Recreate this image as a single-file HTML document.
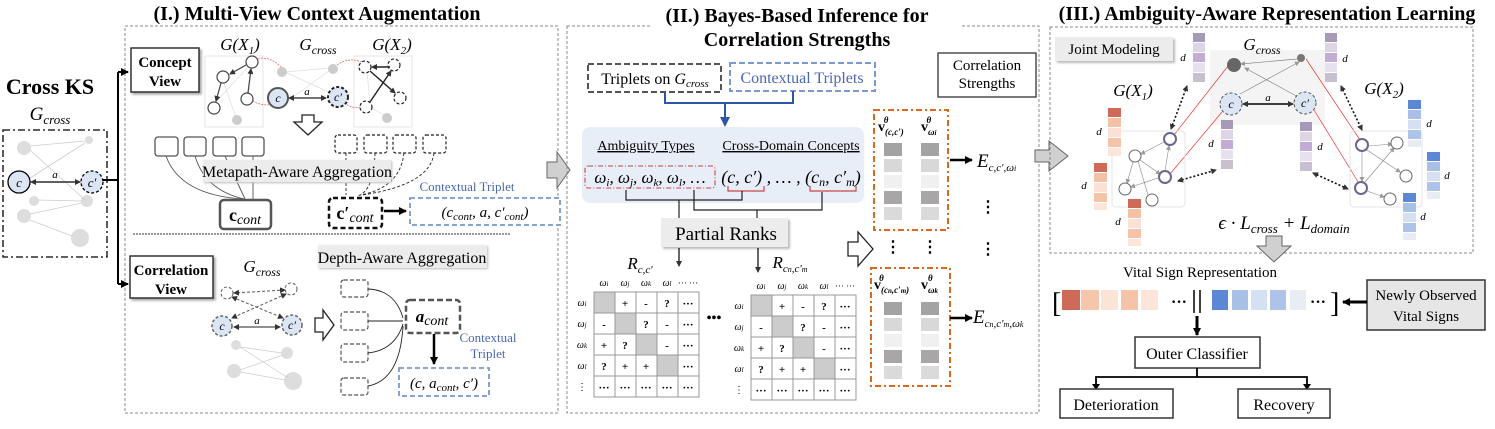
<!DOCTYPE html>
<html><head><meta charset="utf-8"><style>
html,body{margin:0;padding:0;background:#fff;}
svg{display:block;font-family:"Liberation Serif",serif;}
.i{font-style:italic}
.b{font-weight:bold}
</style></head><body>
<svg width="1495" height="429" viewBox="0 0 1495 429" xmlns="http://www.w3.org/2000/svg">
<defs>
<marker id="ah" markerWidth="8" markerHeight="8" refX="7" refY="4" orient="auto" markerUnits="userSpaceOnUse"><path d="M0,0 L8,4 L0,8 z" fill="#000"/></marker>
<marker id="ahs" markerWidth="6" markerHeight="6" refX="5" refY="3" orient="auto-start-reverse" markerUnits="userSpaceOnUse"><path d="M0,0 L6,3 L0,6 z" fill="#333"/></marker>
<marker id="ahg" markerWidth="5" markerHeight="5" refX="4" refY="2.5" orient="auto-start-reverse" markerUnits="userSpaceOnUse"><path d="M0,0 L5,2.5 L0,5 z" fill="#999"/></marker>
<marker id="ahb" markerWidth="10" markerHeight="10" refX="8" refY="5" orient="auto" markerUnits="userSpaceOnUse"><path d="M0,0 L10,5 L0,10 z" fill="#2e56a6"/></marker>
</defs>

<!-- ===== Panel I ===== -->
<text x="317" y="20" font-size="20" class="b" text-anchor="middle">(I.) Multi-View Context Augmentation</text>
<rect x="125" y="26" width="433" height="387" fill="none" stroke="#888" stroke-dasharray="3,2"/>
<text x="50" y="94" font-size="22" class="b" text-anchor="middle">Cross KS</text>
<text x="50" y="120" font-size="19" class="i" text-anchor="middle">G<tspan font-size="13" dy="4">cross</tspan></text>
<rect x="3" y="130" width="104" height="127" fill="none" stroke="#000" stroke-width="1.3" stroke-dasharray="7,3,2,3"/>
<g fill="#ddd" stroke="none">
<circle cx="24" cy="148" r="7"/><circle cx="89" cy="140" r="4"/><circle cx="34" cy="201" r="5"/><circle cx="87" cy="201" r="6"/><circle cx="24" cy="216" r="7"/><circle cx="80" cy="238" r="9"/>
</g>
<g stroke="#ccc" stroke-width="0.8" fill="none">
<line x1="30" y1="146" x2="85" y2="141"/><line x1="30" y1="150" x2="85" y2="200"/><line x1="38" y1="200" x2="82" y2="201"/><line x1="30" y1="214" x2="82" y2="203"/><line x1="30" y1="220" x2="72" y2="236"/><line x1="30" y1="178" x2="85" y2="143"/>
</g>
<line x1="31" y1="182" x2="80" y2="182" stroke="#000" stroke-width="1.3" marker-end="url(#ahs)" marker-start="url(#ahs)"/>
<text x="55" y="178" font-size="11" class="i" text-anchor="middle">a</text>
<circle cx="19" cy="182" r="11" fill="#dbe5f4" stroke="#000" stroke-width="1.3"/><text x="19" y="187" font-size="13" class="i" text-anchor="middle">c</text>
<circle cx="92" cy="182" r="11" fill="#dbe5f4" stroke="#000" stroke-width="1.3" stroke-dasharray="3,2"/><text x="92" y="187" font-size="13" class="i" text-anchor="middle">c′</text>
<line x1="103" y1="180" x2="118" y2="180" stroke="#000" stroke-width="2"/>
<line x1="118" y1="72" x2="118" y2="284" stroke="#000" stroke-width="2"/>
<line x1="118" y1="72" x2="128" y2="72" stroke="#000" stroke-width="2" marker-end="url(#ah)"/>
<line x1="118" y1="284" x2="128" y2="284" stroke="#000" stroke-width="2" marker-end="url(#ah)"/>
<rect x="131" y="48" width="68" height="44" fill="#fff" stroke="#333" stroke-width="1.5" style="filter:drop-shadow(2px 2px 1px #aaa)"/>
<text x="165" y="67" font-size="15" class="b" text-anchor="middle">Concept</text><text x="165" y="86" font-size="15" class="b" text-anchor="middle">View</text>
<rect x="130" y="256" width="83" height="42" fill="#fff" stroke="#333" stroke-width="1.5" style="filter:drop-shadow(2px 2px 1px #aaa)"/>
<text x="171" y="275" font-size="15" class="b" text-anchor="middle">Correlation</text><text x="171" y="294" font-size="15" class="b" text-anchor="middle">View</text>
<text x="240" y="50" font-size="17" class="i" text-anchor="middle">G(X<tspan font-size="11" dy="4">1</tspan><tspan dy="-4">)</tspan></text>
<text x="318" y="50" font-size="17" class="i" text-anchor="middle">G<tspan font-size="12" dy="4">cross</tspan></text>
<text x="392" y="50" font-size="17" class="i" text-anchor="middle">G(X<tspan font-size="11" dy="4">2</tspan><tspan dy="-4">)</tspan></text>
<rect x="205" y="56" width="58" height="71" fill="none" stroke="#e4e4e4"/>
<rect x="354" y="56" width="58" height="71" fill="none" stroke="#e4e4e4"/>
<g stroke="#ddd" stroke-width="0.7"><line x1="222" y1="78" x2="237" y2="120"/><line x1="250" y1="65" x2="213" y2="105"/><line x1="285" y1="72" x2="330" y2="68"/><line x1="285" y1="72" x2="335" y2="95"/><line x1="289" y1="100" x2="333" y2="68"/><line x1="367" y1="70" x2="370" y2="105"/><line x1="367" y1="105" x2="387" y2="117"/></g>
<g fill="#ccc"><circle cx="282" cy="72" r="5"/><circle cx="333" cy="69" r="5"/><circle cx="237" cy="120" r="5"/><circle cx="387" cy="118" r="5"/></g>
<g stroke="#d44" stroke-width="0.6" stroke-dasharray="2,1" fill="none"><path d="M255,59 Q270,55 282,68"/><path d="M250,100 Q265,108 275,103"/><path d="M337,65 Q350,56 364,63"/><path d="M342,101 Q352,110 364,107"/></g>
<g fill="#fff" stroke="#444" stroke-width="1.2">
<circle cx="252" cy="62" r="6"/><circle cx="223" cy="77" r="6"/><circle cx="247" cy="99" r="6"/><circle cx="214" cy="108" r="6"/>
</g>
<g stroke="#444" stroke-width="1.2"><line x1="246" y1="65" x2="230" y2="74" marker-end="url(#ahs)"/><line x1="248" y1="93" x2="251" y2="69" marker-end="url(#ahs)"/><line x1="221" y1="83" x2="216" y2="101" marker-end="url(#ahs)"/></g>
<g fill="#fff" stroke="#222" stroke-width="1.2" stroke-dasharray="3,2">
<circle cx="365" cy="67" r="6"/><circle cx="394" cy="65" r="6"/><circle cx="400" cy="98" r="6"/><circle cx="366" cy="107" r="6"/>
</g>
<g stroke="#222" stroke-width="1.4"><line x1="390" y1="67" x2="372" y2="67" marker-end="url(#ahs)"/><line x1="370" y1="71" x2="395" y2="93" marker-end="url(#ahs)"/><line x1="370" y1="102" x2="391" y2="71" marker-end="url(#ahs)"/></g>
<line x1="289" y1="98" x2="326" y2="98" stroke="#222" stroke-width="1.2" marker-end="url(#ahs)" marker-start="url(#ahs)"/>
<text x="307" y="95" font-size="11" class="i" text-anchor="middle">a</text>
<circle cx="278" cy="98" r="10" fill="#dbe5f4" stroke="#555" stroke-width="2"/><text x="278" y="102" font-size="12" class="i" text-anchor="middle">c</text>
<circle cx="338" cy="97" r="10" fill="#dbe5f4" stroke="#222" stroke-width="2" stroke-dasharray="3,2"/><text x="338" y="101" font-size="12" class="i" text-anchor="middle">c′</text>
<path d="M302,115 h12 v7 h8 l-14,13 l-14,-13 h8 z" fill="#fff" stroke="#222" stroke-width="1.3"/>
<g fill="#fff" stroke="#555" stroke-width="1.3">
<rect x="155" y="137" width="23" height="19" rx="3"/><rect x="184" y="137" width="22" height="19" rx="3"/><rect x="213" y="137" width="23" height="19" rx="3"/><rect x="242" y="137" width="22" height="19" rx="3"/>
</g>
<g fill="#fff" stroke="#222" stroke-width="1.2" stroke-dasharray="3,2">
<rect x="335" y="135" width="22" height="18" rx="3"/><rect x="364" y="135" width="23" height="18" rx="3"/><rect x="393" y="135" width="23" height="18" rx="3"/><rect x="423" y="135" width="23" height="18" rx="3"/>
</g>
<g fill="none" stroke="#555" stroke-width="0.9">
<path d="M166,156 Q180,195 243,199"/><path d="M195,156 Q205,190 244,199"/><path d="M225,156 L245,199"/><path d="M253,156 L253,199"/>
</g>
<g fill="none" stroke="#222" stroke-width="0.9" stroke-dasharray="3,2">
<path d="M346,153 L346,195"/><path d="M375,153 Q374,190 358,196"/><path d="M404,153 Q400,188 360,195"/><path d="M434,153 Q430,185 362,195"/>
</g>
<rect x="203" y="160" width="188" height="22" fill="#ececec" style="filter:drop-shadow(1px 1px 1px #bbb)"/>
<text x="297" y="177" font-size="16" text-anchor="middle">Metapath-Aware Aggregation</text>
<rect x="220" y="200" width="51" height="29" rx="4" fill="#fff" stroke="#555" stroke-width="2.5"/>
<text x="245" y="221" font-size="18" text-anchor="middle"><tspan class="b">c</tspan><tspan class="i" font-size="14" dy="3">cont</tspan></text>
<rect x="329" y="198" width="53" height="30" rx="4" fill="#fff" stroke="#111" stroke-width="2.5" stroke-dasharray="5,3"/>
<text x="355" y="219" font-size="18" text-anchor="middle"><tspan class="b">c′</tspan><tspan class="i" font-size="14" dy="3">cont</tspan></text>
<line x1="384" y1="211" x2="406" y2="211" stroke="#000" stroke-width="2.5" marker-end="url(#ah)"/>
<text x="467" y="191" font-size="13" fill="#4a68b0" text-anchor="middle">Contextual Triplet</text>
<rect x="410" y="198" width="150" height="27" fill="#fff" stroke="#7b98d0" stroke-width="1.8" stroke-dasharray="5,3"/>
<text x="485" y="217" font-size="15" class="i" text-anchor="middle">(c<tspan font-size="11" dy="3">cont</tspan><tspan dy="-3">, a, c′</tspan><tspan font-size="11" dy="3">cont</tspan><tspan dy="-3">)</tspan></text>
<line x1="133" y1="234" x2="510" y2="234" stroke="#333" stroke-dasharray="2,1"/>
<rect x="318" y="245" width="169" height="23" fill="#ececec" style="filter:drop-shadow(1px 1px 1px #bbb)"/>
<text x="402" y="263" font-size="16" text-anchor="middle">Depth-Aware Aggregation</text>
<text x="262" y="272" font-size="17" class="i" text-anchor="middle">G<tspan font-size="12" dy="4">cross</tspan></text>
<g fill="#ddd"><circle cx="236" cy="345" r="5"/><circle cx="287" cy="353" r="6"/><circle cx="234" cy="371" r="7"/><circle cx="293" cy="381" r="9"/></g>
<g stroke="#ccc" stroke-width="0.7"><line x1="240" y1="347" x2="282" y2="353"/><line x1="240" y1="347" x2="288" y2="378"/><line x1="240" y1="370" x2="283" y2="355"/><line x1="240" y1="372" x2="285" y2="380"/></g>
<g fill="#fff" stroke="#666" stroke-width="1.1" stroke-dasharray="3,2"><circle cx="227" cy="293" r="6"/><circle cx="291" cy="289" r="6"/></g>
<g stroke="#666" stroke-width="1.1" stroke-dasharray="3,2"><line x1="285" y1="290" x2="234" y2="293" marker-end="url(#ahs)" marker-start="url(#ahs)"/><line x1="232" y1="297" x2="283" y2="318" marker-end="url(#ahs)" marker-start="url(#ahs)"/><line x1="286" y1="294" x2="232" y2="318" marker-end="url(#ahs)" marker-start="url(#ahs)"/></g>
<line x1="234" y1="327" x2="280" y2="327" stroke="#222" stroke-width="1.1" marker-end="url(#ahs)" marker-start="url(#ahs)"/>
<text x="257" y="324" font-size="11" class="i" text-anchor="middle">a</text>
<circle cx="222" cy="326" r="10" fill="#dbe5f4" stroke="#666" stroke-width="1.5" stroke-dasharray="3,2"/><text x="222" y="330" font-size="12" class="i" text-anchor="middle">c</text>
<circle cx="292" cy="325" r="10" fill="#dbe5f4" stroke="#666" stroke-width="1.5" stroke-dasharray="3,2"/><text x="292" y="329" font-size="12" class="i" text-anchor="middle">c′</text>
<path d="M315,318 h8 v-8 l11,15 l-11,15 v-8 h-8 z" fill="#fff" stroke="#222" stroke-width="1.3"/>
<g fill="#fff" stroke="#555" stroke-width="1.2" stroke-dasharray="4,2">
<rect x="341" y="280" width="27" height="17" rx="3"/><rect x="341" y="312" width="27" height="18" rx="3"/><rect x="341" y="344" width="27" height="18" rx="3"/><rect x="341" y="378" width="27" height="17" rx="3"/>
</g>
<g fill="none" stroke="#222" stroke-width="0.9">
<path d="M368,289 Q395,290 403,318"/><path d="M368,321 L403,321"/><path d="M368,353 Q395,350 403,324"/><path d="M368,386 Q400,380 403,326"/>
</g>
<rect x="406" y="300" width="54" height="33" rx="4" fill="#fff" stroke="#555" stroke-width="2.5" stroke-dasharray="6,3"/>
<text x="432" y="322" font-size="17" class="i" text-anchor="middle"><tspan class="b">a</tspan><tspan font-size="14" dy="3">cont</tspan></text>
<line x1="434" y1="334" x2="434" y2="364" stroke="#000" stroke-width="2.5" marker-end="url(#ah)"/>
<text x="488" y="342" font-size="13" fill="#4a68b0" text-anchor="middle">Contextual</text>
<text x="488" y="358" font-size="13" fill="#4a68b0" text-anchor="middle">Triplet</text>
<rect x="399" y="368" width="90" height="28" fill="#fff" stroke="#7b98d0" stroke-width="1.8" stroke-dasharray="5,3"/>
<text x="444" y="388" font-size="15" class="i" text-anchor="middle">(c, a<tspan font-size="11" dy="3">cont</tspan><tspan dy="-3">, c′)</tspan></text>

<!-- arrow I -> II -->
<path d="M547,162 h10 v-10 l13,18 l-13,18 v-10 h-10 z" fill="#d0d0d0" stroke="#666"/>

<!-- ===== Panel II ===== -->
<rect x="567" y="26" width="472" height="387" fill="none" stroke="#888" stroke-dasharray="3,2"/>
<rect x="650" y="8" width="310" height="42" fill="#fff"/>
<text x="797" y="22" font-size="20" class="b" text-anchor="middle">(II.) Bayes-Based Inference for</text>
<text x="797" y="46" font-size="20" class="b" text-anchor="middle">Correlation Strengths</text>
<rect x="588" y="64" width="133" height="28" fill="#fff" stroke="#555" stroke-width="2" stroke-dasharray="6,3"/>
<text x="655" y="84" font-size="16" text-anchor="middle">Triplets on <tspan class="i">G<tspan font-size="11" dy="3">cross</tspan></tspan></text>
<rect x="730" y="63" width="145" height="28" fill="#fff" stroke="#7b98d0" stroke-width="2" stroke-dasharray="6,3"/>
<text x="802" y="83" font-size="16" fill="#4a68b0" text-anchor="middle">Contextual Triplets</text>
<path d="M665,92 V103 H793 V91" fill="none" stroke="#2e56a6" stroke-width="2"/>
<line x1="725" y1="103" x2="725" y2="125" stroke="#2e56a6" stroke-width="2" marker-end="url(#ahb)"/>
<rect x="582" y="127" width="282" height="76" rx="8" fill="#e8eef7"/>
<text x="646" y="150" font-size="14" text-anchor="middle" text-decoration="underline">Ambiguity Types</text>
<text x="791" y="150" font-size="14" text-anchor="middle" text-decoration="underline">Cross-Domain Concepts</text>
<rect x="585" y="166" width="130" height="22" rx="3" fill="none" stroke="#c44" stroke-width="1.1" stroke-dasharray="5,2,1,2"/>
<text x="650" y="183" font-size="17" class="i" text-anchor="middle">ω<tspan font-size="11" dy="3">i</tspan><tspan dy="-3">, ω</tspan><tspan font-size="11" dy="3">j</tspan><tspan dy="-3">, ω</tspan><tspan font-size="11" dy="3">k</tspan><tspan dy="-3">, ω</tspan><tspan font-size="11" dy="3">l</tspan><tspan dy="-3">, …</tspan></text>
<text x="791" y="183" font-size="18" class="i" text-anchor="middle">(c, c′) , … , (c<tspan font-size="12" dy="3">n</tspan><tspan dy="-3">, c′</tspan><tspan font-size="12" dy="3">m</tspan><tspan dy="-3">)</tspan></text>
<g fill="none" stroke="#c44" stroke-width="1.2"><path d="M728,186 v5 h36 v-5"/><path d="M810,186 v5 h46 v-5"/></g>
<g fill="none" stroke="#222" stroke-width="1.2">
<path d="M626,190 V200 H742 V191"/><path d="M694,190 V210 H822 V192"/><line x1="679" y1="200" x2="679" y2="218"/><line x1="757" y1="210" x2="757" y2="218"/>
</g>
<rect x="661" y="218" width="127" height="29" fill="#ececec" style="filter:drop-shadow(2px 2px 1px #bbb)"/>
<text x="726" y="240" font-size="19" text-anchor="middle">Partial Ranks</text>
<line x1="679" y1="248" x2="679" y2="266" stroke="#000" stroke-width="1.2" marker-end="url(#ahs)"/>
<line x1="758" y1="248" x2="758" y2="272" stroke="#000" stroke-width="1.2" marker-end="url(#ahs)"/>
<text x="640" y="269" font-size="17" class="i" text-anchor="middle">R<tspan font-size="11" dy="4">c,c′</tspan></text>
<text x="790" y="268" font-size="17" class="i" text-anchor="middle">R<tspan font-size="11" dy="4">c<tspan font-size="8">n</tspan>,c′<tspan font-size="8">m</tspan></tspan></text>
<text x="714" y="322" font-size="14" class="b" text-anchor="middle">•••</text>

<g transform="translate(594,292)" font-size="11">
<text x="10" y="-6" class="i" font-size="10" text-anchor="middle">ω<tspan font-size="7">i</tspan></text><text x="31" y="-6" class="i" font-size="10" text-anchor="middle">ω<tspan font-size="7">j</tspan></text><text x="52" y="-6" class="i" font-size="10" text-anchor="middle">ω<tspan font-size="7">k</tspan></text><text x="73" y="-6" class="i" font-size="10" text-anchor="middle">ω<tspan font-size="7">l</tspan></text><text x="94" y="-6" font-size="9" text-anchor="middle">··· ···</text>
<text x="-12" y="14" class="i" font-size="10" text-anchor="middle">ω<tspan font-size="7">i</tspan></text><text x="-12" y="35" class="i" font-size="10" text-anchor="middle">ω<tspan font-size="7">j</tspan></text><text x="-12" y="56" class="i" font-size="10" text-anchor="middle">ω<tspan font-size="7">k</tspan></text><text x="-12" y="77" class="i" font-size="10" text-anchor="middle">ω<tspan font-size="7">l</tspan></text><text x="-12" y="98" font-size="10" text-anchor="middle">⋮</text>
<rect x="0" y="0" width="21" height="21" fill="#ccc"/><rect x="21" y="21" width="21" height="21" fill="#ccc"/><rect x="42" y="42" width="21" height="21" fill="#ccc"/><rect x="63" y="63" width="21" height="21" fill="#ccc"/>
<g stroke="#999" stroke-width="1" fill="none"><rect x="0" y="0" width="105" height="105"/><line x1="21" y1="0" x2="21" y2="105"/><line x1="42" y1="0" x2="42" y2="105"/><line x1="63" y1="0" x2="63" y2="105"/><line x1="84" y1="0" x2="84" y2="105"/><line x1="0" y1="21" x2="105" y2="21"/><line x1="0" y1="42" x2="105" y2="42"/><line x1="0" y1="63" x2="105" y2="63"/><line x1="0" y1="84" x2="105" y2="84"/></g>
<g class="b" text-anchor="middle">
<text x="31" y="15">+</text><text x="52" y="15">-</text><text x="73" y="15">?</text><text x="94" y="15">···</text>
<text x="10" y="36">-</text><text x="52" y="36">?</text><text x="73" y="36">-</text><text x="94" y="36">···</text>
<text x="10" y="57">+</text><text x="31" y="57">?</text><text x="73" y="57">-</text><text x="94" y="57">···</text>
<text x="10" y="78">?</text><text x="31" y="78">+</text><text x="52" y="78">+</text><text x="94" y="78">···</text>
<text x="10" y="99">···</text><text x="31" y="99">···</text><text x="52" y="99">···</text><text x="73" y="99">···</text><text x="94" y="99">···</text>
</g></g>
<g transform="translate(751,295)" font-size="11">
<text x="10" y="-6" class="i" font-size="10" text-anchor="middle">ω<tspan font-size="7">i</tspan></text><text x="31" y="-6" class="i" font-size="10" text-anchor="middle">ω<tspan font-size="7">j</tspan></text><text x="52" y="-6" class="i" font-size="10" text-anchor="middle">ω<tspan font-size="7">k</tspan></text><text x="73" y="-6" class="i" font-size="10" text-anchor="middle">ω<tspan font-size="7">l</tspan></text><text x="94" y="-6" font-size="9" text-anchor="middle">··· ···</text>
<text x="-12" y="14" class="i" font-size="10" text-anchor="middle">ω<tspan font-size="7">i</tspan></text><text x="-12" y="35" class="i" font-size="10" text-anchor="middle">ω<tspan font-size="7">j</tspan></text><text x="-12" y="56" class="i" font-size="10" text-anchor="middle">ω<tspan font-size="7">k</tspan></text><text x="-12" y="77" class="i" font-size="10" text-anchor="middle">ω<tspan font-size="7">l</tspan></text><text x="-12" y="98" font-size="10" text-anchor="middle">⋮</text>
<rect x="0" y="0" width="21" height="21" fill="#ccc"/><rect x="21" y="21" width="21" height="21" fill="#ccc"/><rect x="42" y="42" width="21" height="21" fill="#ccc"/><rect x="63" y="63" width="21" height="21" fill="#ccc"/>
<g stroke="#999" stroke-width="1" fill="none"><rect x="0" y="0" width="105" height="105"/><line x1="21" y1="0" x2="21" y2="105"/><line x1="42" y1="0" x2="42" y2="105"/><line x1="63" y1="0" x2="63" y2="105"/><line x1="84" y1="0" x2="84" y2="105"/><line x1="0" y1="21" x2="105" y2="21"/><line x1="0" y1="42" x2="105" y2="42"/><line x1="0" y1="63" x2="105" y2="63"/><line x1="0" y1="84" x2="105" y2="84"/></g>
<g class="b" text-anchor="middle">
<text x="31" y="15">+</text><text x="52" y="15">-</text><text x="73" y="15">?</text><text x="94" y="15">···</text>
<text x="10" y="36">-</text><text x="52" y="36">?</text><text x="73" y="36">-</text><text x="94" y="36">···</text>
<text x="10" y="57">+</text><text x="31" y="57">?</text><text x="73" y="57">-</text><text x="94" y="57">···</text>
<text x="10" y="78">?</text><text x="31" y="78">+</text><text x="52" y="78">+</text><text x="94" y="78">···</text>
<text x="10" y="99">···</text><text x="31" y="99">···</text><text x="52" y="99">···</text><text x="73" y="99">···</text><text x="94" y="99">···</text>
</g></g>

<path d="M848,242 h10 v-10 l15,17 l-15,17 v-10 h-10 z" fill="#fff" stroke="#222" stroke-width="1.3"/>
<rect x="938" y="53" width="98" height="44" fill="#fff" stroke="#333" stroke-width="1.3"/>
<text x="987" y="70" font-size="15" text-anchor="middle">Correlation</text><text x="987" y="88" font-size="15" text-anchor="middle">Strengths</text>
<rect x="874" y="110" width="74" height="120" fill="none" stroke="#d9691f" stroke-width="2" stroke-dasharray="6,3,2,3"/>
<rect x="871" y="268" width="79" height="118" fill="none" stroke="#d9691f" stroke-width="2" stroke-dasharray="6,3,2,3"/>
<text x="878" y="131" font-size="14" class="b">v<tspan class="i" font-size="9" dy="4">(c,c′)</tspan><tspan class="i" font-size="9" dx="-20" dy="-12">θ</tspan></text>
<text x="921" y="131" font-size="14" class="b">v<tspan class="i" font-size="9" dy="4">ω<tspan font-size="7">i</tspan></tspan><tspan class="i" font-size="9" dx="-10" dy="-12">θ</tspan></text>
<text x="874" y="289" font-size="14" class="b">v<tspan class="i" font-size="9" dy="4">(c<tspan font-size="7">n</tspan>,c′<tspan font-size="7">m</tspan>)</tspan><tspan class="i" font-size="9" dx="-30" dy="-12">θ</tspan></text>
<text x="921" y="289" font-size="14" class="b">v<tspan class="i" font-size="9" dy="4">ω<tspan font-size="7">k</tspan></tspan><tspan class="i" font-size="9" dx="-10" dy="-12">θ</tspan></text>
<g>
<rect x="884" y="143" width="18" height="13" fill="#a3a3a3"/><rect x="884" y="159" width="18" height="13" fill="#d8d8d8"/><rect x="884" y="175" width="18" height="13" fill="#f0f0f0"/><rect x="884" y="191" width="18" height="13" fill="#a8a6a6"/><rect x="884" y="207" width="18" height="13" fill="#dadada"/>
<rect x="921" y="143" width="18" height="13" fill="#a3a3a3"/><rect x="921" y="159" width="18" height="13" fill="#d8d8d8"/><rect x="921" y="175" width="18" height="13" fill="#f0f0f0"/><rect x="921" y="191" width="18" height="13" fill="#a8a6a6"/><rect x="921" y="207" width="18" height="13" fill="#dadada"/>
<rect x="884" y="302" width="18" height="13" fill="#a3a3a3"/><rect x="884" y="318" width="18" height="13" fill="#d8d8d8"/><rect x="884" y="334" width="18" height="13" fill="#f0f0f0"/><rect x="884" y="350" width="18" height="13" fill="#a8a6a6"/><rect x="884" y="366" width="18" height="13" fill="#dadada"/>
<rect x="921" y="302" width="18" height="13" fill="#a3a3a3"/><rect x="921" y="318" width="18" height="13" fill="#d8d8d8"/><rect x="921" y="334" width="18" height="13" fill="#f0f0f0"/><rect x="921" y="350" width="18" height="13" fill="#a8a6a6"/><rect x="921" y="366" width="18" height="13" fill="#dadada"/>
</g>
<g font-size="16" class="b" text-anchor="middle"><text x="893" y="252">⋮</text><text x="930" y="252">⋮</text><text x="988" y="212">⋮</text><text x="988" y="254">⋮</text></g>
<line x1="950" y1="160" x2="972" y2="160" stroke="#000" stroke-width="2.5" marker-end="url(#ah)"/>
<line x1="950" y1="318" x2="972" y2="318" stroke="#000" stroke-width="2.5" marker-end="url(#ah)"/>
<text x="977" y="167" font-size="19" class="i">E<tspan font-size="11" dy="4">c,c′,ω<tspan font-size="8">i</tspan></tspan></text>
<text x="973" y="323" font-size="19" class="i">E<tspan font-size="11" dy="4">c<tspan font-size="8">n</tspan>,c′<tspan font-size="8">m</tspan>,ω<tspan font-size="8">k</tspan></tspan></text>

<!-- arrow II -> III -->
<path d="M1035,150 h14 v-9 l19,15 l-19,15 v-9 h-14 z" fill="#d0d0d0" stroke="#666"/>

<!-- ===== Panel III ===== -->
<text x="1267" y="20" font-size="20" class="b" text-anchor="middle">(III.) Ambiguity-Aware Representation Learning</text>
<rect x="1050" y="27" width="423" height="226" fill="none" stroke="#888" stroke-dasharray="3,2"/>
<rect x="1055" y="37" width="118" height="24" fill="#ececec" style="filter:drop-shadow(2px 2px 1px #bbb)"/>
<text x="1114" y="54" font-size="15" text-anchor="middle">Joint Modeling</text>
<rect x="1210" y="50" width="115" height="75" fill="#f4f4f4"/>
<text x="1262" y="50" font-size="17" class="i" text-anchor="middle">G<tspan font-size="12" dy="4">cross</tspan></text>
<text x="1133" y="96" font-size="17" class="i" text-anchor="middle">G(X<tspan font-size="11" dy="4">1</tspan><tspan dy="-4">)</tspan></text>
<text x="1384" y="94" font-size="17" class="i" text-anchor="middle">G(X<tspan font-size="11" dy="4">2</tspan><tspan dy="-4">)</tspan></text>
<g stroke="#888" stroke-width="0.7"><line x1="1241" y1="64" x2="1297" y2="59" marker-start="url(#ahg)"/><line x1="1245" y1="68" x2="1300" y2="98" marker-start="url(#ahg)"/><line x1="1299" y1="62" x2="1240" y2="94" marker-start="url(#ahg)"/></g>
<circle cx="1234" cy="65" r="7" fill="#666"/><circle cx="1301" cy="58" r="4" fill="#777"/>
<line x1="1243" y1="104" x2="1293" y2="104" stroke="#000" stroke-width="1.5" marker-end="url(#ahs)" marker-start="url(#ahs)"/>
<text x="1268" y="101" font-size="11" class="i" text-anchor="middle">a</text>
<circle cx="1231" cy="104" r="11" fill="#dbe5f4" stroke="#555" stroke-dasharray="3,2"/><text x="1231" y="108" font-size="12" class="i" text-anchor="middle">c</text>
<circle cx="1305" cy="103" r="11" fill="#dbe5f4" stroke="#555" stroke-dasharray="3,2"/><text x="1305" y="107" font-size="12" class="i" text-anchor="middle">c′</text>
<g stroke="#e33" stroke-width="0.7"><line x1="1228" y1="66" x2="1174" y2="135"/><line x1="1306" y1="59" x2="1360" y2="140"/><line x1="1222" y1="112" x2="1170" y2="174"/><line x1="1314" y1="110" x2="1360" y2="185"/></g>
<rect x="1112" y="131" width="73" height="76" rx="4" fill="none" stroke="#e4e4e4"/>
<rect x="1350" y="131" width="72" height="76" rx="4" fill="none" stroke="#e4e4e4"/>
<g stroke="#888" stroke-width="0.6"><line x1="1164" y1="142" x2="1141" y2="154" marker-end="url(#ahg)"/><line x1="1133" y1="162" x2="1127" y2="183" marker-end="url(#ahg)"/><line x1="1140" y1="160" x2="1160" y2="174" marker-end="url(#ahg)"/><line x1="1165" y1="171" x2="1169" y2="146" marker-end="url(#ahg)"/><line x1="1158" y1="178" x2="1131" y2="187" marker-end="url(#ahg)"/><line x1="1148" y1="195" x2="1138" y2="161"/>
<line x1="1369" y1="146" x2="1392" y2="144" marker-end="url(#ahg)"/><line x1="1367" y1="150" x2="1400" y2="172" marker-end="url(#ahg)"/><line x1="1365" y1="182" x2="1394" y2="148" marker-end="url(#ahg)"/><line x1="1362" y1="152" x2="1362" y2="181" marker-end="url(#ahg)"/><line x1="1367" y1="191" x2="1384" y2="197" marker-end="url(#ahg)"/></g>
<g fill="#fff" stroke="#666" stroke-width="1"><circle cx="1135" cy="156" r="6"/><circle cx="1125" cy="189" r="6"/><circle cx="1152" cy="200" r="6"/><circle cx="1397" cy="143" r="6"/><circle cx="1406" cy="176" r="6"/><circle cx="1390" cy="199" r="6"/></g>
<g fill="#fff" stroke="#6a6690" stroke-width="2"><circle cx="1170" cy="139" r="6"/><circle cx="1165" cy="177" r="6"/><circle cx="1362" cy="145" r="6"/><circle cx="1361" cy="188" r="6"/></g>
<g stroke="#111" stroke-width="1.6" stroke-dasharray="2,2"><line x1="1171" y1="129" x2="1187" y2="86" marker-end="url(#ahs)" marker-start="url(#ahs)"/><line x1="1178" y1="181" x2="1216" y2="170" marker-end="url(#ahs)" marker-start="url(#ahs)"/><line x1="1313" y1="173" x2="1348" y2="189" marker-end="url(#ahs)" marker-start="url(#ahs)"/><line x1="1341" y1="86" x2="1362" y2="130" marker-end="url(#ahs)" marker-start="url(#ahs)"/></g>
<!-- vectors purple -->
<g>
<rect x="1193" y="33" width="12" height="9" fill="#a79ab8"/><rect x="1193" y="43" width="12" height="9" fill="#ddd5e6"/><rect x="1193" y="53" width="12" height="9" fill="#c0acd4"/><rect x="1193" y="63" width="12" height="9" fill="#e7e0ee"/><rect x="1193" y="73" width="12" height="9" fill="#c8c0cf"/>
<rect x="1325" y="33" width="12" height="9" fill="#a79ab8"/><rect x="1325" y="43" width="12" height="9" fill="#ddd5e6"/><rect x="1325" y="53" width="12" height="9" fill="#c0acd4"/><rect x="1325" y="63" width="12" height="9" fill="#e7e0ee"/><rect x="1325" y="73" width="12" height="9" fill="#c8c0cf"/>
<rect x="1221" y="120" width="12" height="9" fill="#a79ab8"/><rect x="1221" y="130" width="12" height="9" fill="#ddd5e6"/><rect x="1221" y="140" width="12" height="9" fill="#c0acd4"/><rect x="1221" y="150" width="12" height="9" fill="#e7e0ee"/><rect x="1221" y="160" width="12" height="9" fill="#c8c0cf"/>
<rect x="1300" y="122" width="12" height="9" fill="#a79ab8"/><rect x="1300" y="132" width="12" height="9" fill="#ddd5e6"/><rect x="1300" y="142" width="12" height="9" fill="#c0acd4"/><rect x="1300" y="152" width="12" height="9" fill="#e7e0ee"/><rect x="1300" y="162" width="12" height="9" fill="#c8c0cf"/>
</g>
<g>
<rect x="1108" y="108" width="13" height="9" fill="#d06a58"/><rect x="1108" y="118" width="13" height="9" fill="#f3c2a4"/><rect x="1108" y="128" width="13" height="9" fill="#fbe1d5"/><rect x="1108" y="138" width="13" height="9" fill="#f5c4a8"/><rect x="1108" y="148" width="13" height="8" fill="#fde5da"/>
<rect x="1094" y="163" width="13" height="9" fill="#d06a58"/><rect x="1094" y="173" width="13" height="9" fill="#f3c2a4"/><rect x="1094" y="183" width="13" height="9" fill="#fbe1d5"/><rect x="1094" y="193" width="13" height="9" fill="#f5c4a8"/><rect x="1094" y="203" width="13" height="7" fill="#fde5da"/>
<rect x="1128" y="199" width="13" height="9" fill="#d06a58"/><rect x="1128" y="209" width="13" height="9" fill="#f3c2a4"/><rect x="1128" y="219" width="13" height="9" fill="#fbe1d5"/><rect x="1128" y="229" width="13" height="9" fill="#f5c4a8"/><rect x="1128" y="239" width="13" height="7" fill="#fde5da"/>
<rect x="1408" y="100" width="13" height="9" fill="#5b87d4"/><rect x="1408" y="110" width="13" height="9" fill="#a9c0e6"/><rect x="1408" y="120" width="13" height="9" fill="#d5e0f2"/><rect x="1408" y="130" width="13" height="9" fill="#adc3e8"/><rect x="1408" y="140" width="13" height="7" fill="#e8edf4"/>
<rect x="1427" y="152" width="13" height="9" fill="#5b87d4"/><rect x="1427" y="162" width="13" height="9" fill="#a9c0e6"/><rect x="1427" y="172" width="13" height="9" fill="#d5e0f2"/><rect x="1427" y="182" width="13" height="9" fill="#adc3e8"/><rect x="1427" y="192" width="13" height="7" fill="#e8edf4"/>
<rect x="1403" y="193" width="13" height="9" fill="#5b87d4"/><rect x="1403" y="203" width="13" height="9" fill="#a9c0e6"/><rect x="1403" y="213" width="13" height="9" fill="#d5e0f2"/><rect x="1403" y="223" width="13" height="9" fill="#adc3e8"/><rect x="1403" y="233" width="13" height="7" fill="#e8edf4"/>
</g>
<g font-size="11" class="i" text-anchor="middle"><text x="1183" y="61">d</text><text x="1345" y="62">d</text><text x="1211" y="147">d</text><text x="1320" y="150">d</text><text x="1099" y="135">d</text><text x="1084" y="189">d</text><text x="1118" y="225">d</text><text x="1429" y="127">d</text><text x="1447" y="179">d</text><text x="1423" y="220">d</text></g>
<text x="1284" y="229" font-size="19" class="i" text-anchor="middle">ϵ · L<tspan font-size="13" dy="4">cross</tspan><tspan dy="-4"> + L</tspan><tspan font-size="13" dy="4">domain</tspan></text>
<path d="M1266,236 h16 v10 h9 l-17,16 l-17,-16 h9 z" fill="#d0d0d0" stroke="#666"/>
<text x="1200" y="277" font-size="15" text-anchor="middle">Vital Sign Representation</text>
<text x="1052" y="312" font-size="28">[</text>
<text x="1330" y="312" font-size="28">]</text>
<g>
<rect x="1062" y="290" width="18" height="20" fill="#d06a58"/><rect x="1081" y="290" width="18" height="20" fill="#f6c6aa"/><rect x="1101" y="290" width="17" height="20" fill="#fbe3d6"/><rect x="1121" y="290" width="17" height="20" fill="#f5c4a8"/><rect x="1141" y="290" width="17" height="20" fill="#fde5da"/>
<rect x="1212" y="290" width="16" height="20" fill="#5b87d4"/><rect x="1232" y="290" width="16" height="20" fill="#a9c0e6"/><rect x="1251" y="290" width="16" height="20" fill="#d5e0f2"/><rect x="1270" y="290" width="16" height="20" fill="#adc3e8"/><rect x="1290" y="290" width="16" height="20" fill="#e8edf4"/>
</g>
<text x="1171" y="307" font-size="16" class="b">···</text>
<text x="1310" y="307" font-size="16" class="b">···</text>
<g stroke="#000" stroke-width="1.5"><line x1="1194" y1="290" x2="1194" y2="313"/><line x1="1200" y1="290" x2="1200" y2="313"/></g>
<rect x="1367" y="280" width="118" height="50" fill="#e6e6e6" stroke="#333" stroke-width="1.5"/>
<text x="1426" y="300" font-size="15" text-anchor="middle">Newly Observed</text><text x="1426" y="321" font-size="15" text-anchor="middle">Vital Signs</text>
<line x1="1367" y1="302" x2="1343" y2="302" stroke="#000" stroke-width="3" marker-end="url(#ah)"/>
<line x1="1197" y1="316" x2="1197" y2="335" stroke="#000" stroke-width="3" marker-end="url(#ah)"/>
<rect x="1135" y="337" width="125" height="31" fill="#fff" stroke="#333" stroke-width="1.5"/>
<text x="1197" y="359" font-size="16" text-anchor="middle">Outer Classifier</text>
<path d="M1197,368 V377 M1096,388 V377 H1307 V388" fill="none" stroke="#000" stroke-width="1.8"/>
<path d="M1092,384 L1096,390 L1100,384 z M1303,384 L1307,390 L1311,384 z" fill="#000"/>
<rect x="1060" y="389" width="113" height="29" fill="#fff" stroke="#333" stroke-width="1.5"/>
<text x="1116" y="410" font-size="16" text-anchor="middle">Deterioration</text>
<rect x="1238" y="389" width="92" height="29" fill="#fff" stroke="#333" stroke-width="1.5"/>
<text x="1284" y="410" font-size="16" text-anchor="middle">Recovery</text>
</svg>
</body></html>
